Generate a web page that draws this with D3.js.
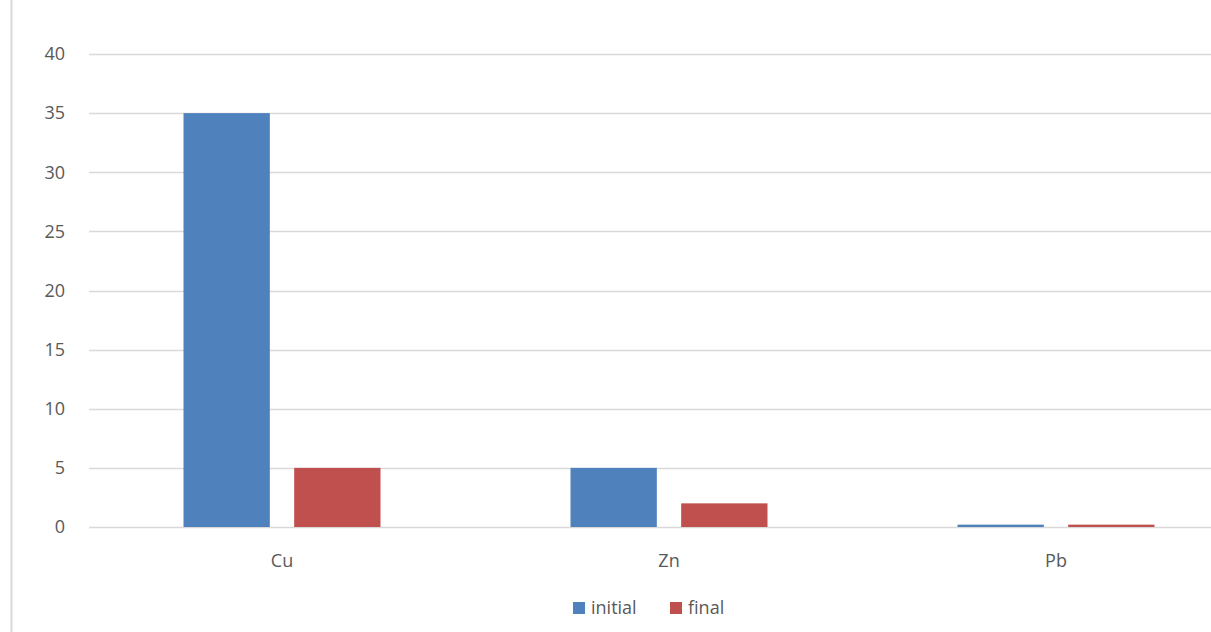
<!DOCTYPE html>
<html>
<head>
<meta charset="utf-8">
<script src="https://cdn.jsdelivr.net/npm/d3@7"></script>
<style>
  html, body { margin: 0; padding: 0; background: #fff; }
  svg text { font-family: "Open Sans", "Noto Sans", sans-serif; fill: #595959; }
</style>
</head>
<body>
<div id="chart"></div>
<script>
var categories = ["Cu", "Zn", "Pb"];
var seriesNames = ["initial", "final"];
var initialValues = [35, 5, 0.2];
var finalValues = [5, 2, 0.2];
var yTicks = [0, 5, 10, 15, 20, 25, 30, 35, 40];
var colors = ["#4f81bd", "#c0504d"];

var W = 1211, H = 632;
var svg = d3.select("#chart").append("svg")
  .attr("width", W)
  .attr("height", H);

// light frame line on the left
svg.append("line")
  .attr("x1", 11.5).attr("x2", 11.5)
  .attr("y1", 0).attr("y2", H)
  .attr("stroke", "#d9d9d9")
  .attr("stroke-width", 2);

var x = d3.scaleBand()
  .domain(categories)
  .range([88.5, 1249.5]);

var x1 = d3.scaleBand()
  .domain(seriesNames)
  .range([95, 292])
  .paddingInner(0.22);

var y = d3.scaleLinear()
  .domain([0, 40])
  .range([527, 54]);

// gridlines
svg.append("g")
  .selectAll("line")
  .data(yTicks)
  .enter()
  .append("line")
    .attr("x1", 89)
    .attr("x2", W)
    .attr("y1", function(d) { return Math.round(y(d)) + 0.5 })
    .attr("y2", function(d) { return Math.round(y(d)) + 0.5 })
    .attr("stroke", "#d9d9d9")
    .attr("stroke-width", 1.5);

// y tick labels
svg.append("g")
  .selectAll("text")
  .data(yTicks)
  .enter()
  .append("text")
    .attr("x", 65)
    .attr("y", function(d) { return y(d) })
    .attr("dy", "0.35em")
    .style("text-anchor", "end")
    .style("font-size", "18px")
    .text(function(d) { return d });

var rows = categories.map(function(c, i) {
  return { cat: c, values: [initialValues[i], finalValues[i]] };
});

var groups = svg.append("g")
  .selectAll("g")
  .data(rows)
  .enter()
  .append("g")
    .attr("transform", function(d) { return "translate(" + x(d.cat) + ",0)" });

groups.selectAll("rect")
  .data(function(d) {
    return d.values.map(function(v, j) { return { name: seriesNames[j], value: v, idx: j } });
  })
  .enter()
  .append("rect")
    .attr("x", function(d) { return x1(d.name) })
    .attr("width", x1.bandwidth())
    .attr("y", function(d) { return y(d.value) })
    .attr("height", function(d) { return y(0) - y(d.value) })
    .attr("fill", function(d) { return colors[d.idx] });

// category labels, centred under each bar pair
svg.append("g")
  .selectAll("text")
  .data(categories)
  .enter()
  .append("text")
    .attr("x", function(d) { return x(d) + 193.5 })
    .attr("y", 561)
    .attr("dy", "0.35em")
    .style("text-anchor", "middle")
    .style("font-size", "18px")
    .text(function(d) { return d });

// legend
var legend = svg.append("g")
  .attr("transform", "translate(573,608)");
var legendX = [0, 97];
seriesNames.forEach(function(name, i) {
  legend.append("rect")
    .attr("x", legendX[i])
    .attr("y", -6)
    .attr("width", 12)
    .attr("height", 12)
    .attr("fill", colors[i]);
  legend.append("text")
    .attr("x", legendX[i] + 18)
    .attr("y", 0)
    .attr("dy", "0.35em")
    .style("font-size", "18px")
    .text(name);
});
</script>
</body>
</html>
